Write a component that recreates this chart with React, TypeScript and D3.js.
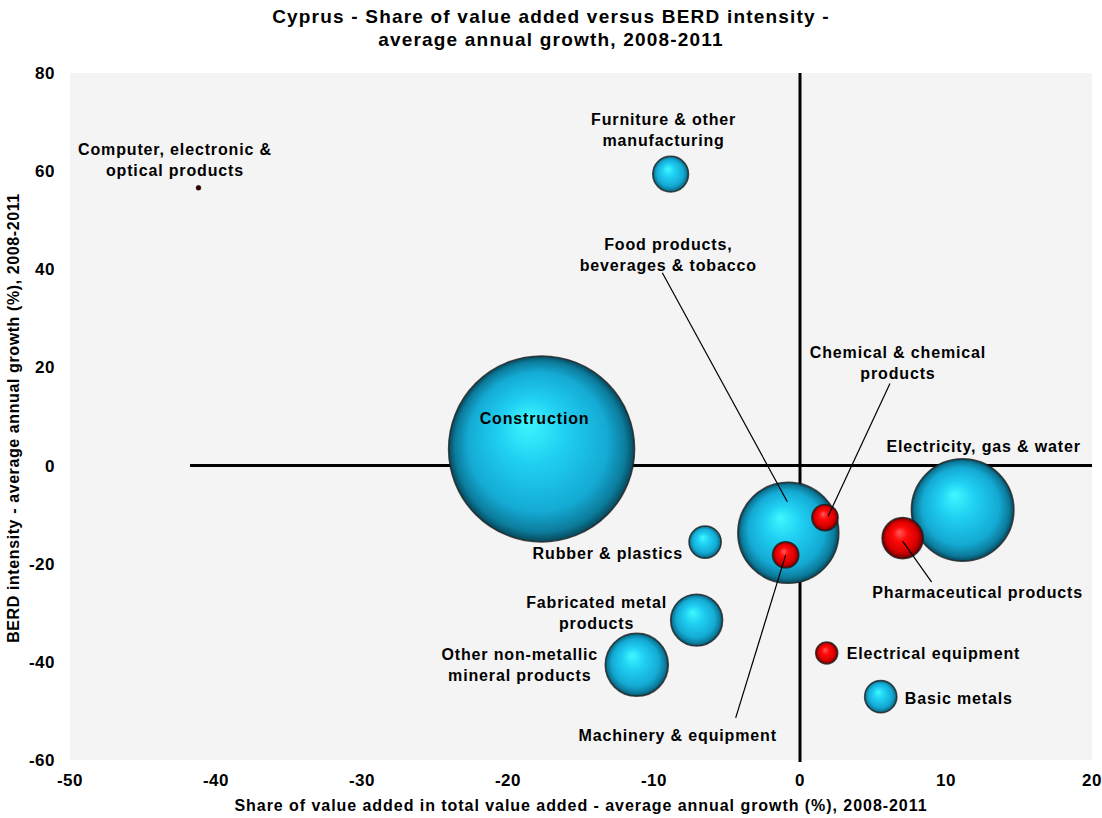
import React from "react";
import * as d3 from "d3";

const names = [
  "Computer, electronic & optical products",
  "Furniture & other manufacturing",
  "Construction",
  "Food products, beverages & tobacco",
  "Chemical & chemical products",
  "Machinery & equipment",
  "Rubber & plastics",
  "Electricity, gas & water",
  "Pharmaceutical products",
  "Fabricated metal products",
  "Other non-metallic mineral products",
  "Electrical equipment",
  "Basic metals",
];
const shareGrowth = [-41.2, -8.86, -17.7, -0.8, 1.71, -0.98, -6.5, 11.14, 7.03, -7.08, -11.18, 1.83, 5.53];
const berdGrowth = [56.6, 59.4, 3.4, -13.7, -10.6, -18.2, -15.6, -9.05, -14.8, -31.5, -40.6, -38.2, -47.1];
const bubbleSize = [0.07, 3.7, 100, 29.5, 2.0, 2.0, 3.0, 30.4, 4.9, 7.8, 11.5, 1.4, 3.0];
const group = ["red", "cyan", "cyan", "cyan", "red", "red", "cyan", "cyan", "red", "cyan", "cyan", "red", "cyan"];

const xTicks = [-50, -40, -30, -20, -10, 0, 10, 20];
const yTicks = [-60, -40, -20, 0, 20, 40, 60, 80];

type Lab = { lines: string[]; dx: number; dy: number; anchor: string; leader?: [number, number, number, number] };
const labels: Lab[] = [
  { lines: ["Computer, electronic &", "optical products"], dx: -23.5, dy: -38, anchor: "middle" },
  { lines: ["Furniture & other", "manufacturing"], dx: -7, dy: -55, anchor: "middle" },
  { lines: ["Construction"], dx: -7, dy: -30, anchor: "middle" },
  { lines: ["Food products,", "beverages & tobacco"], dx: -120, dy: -288, anchor: "middle", leader: [-126, -260, -1, -31] },
  { lines: ["Chemical & chemical", "products"], dx: 73, dy: -165, anchor: "middle", leader: [65, -134, 3, -1] },
  { lines: ["Machinery & equipment"], dx: -108, dy: 181, anchor: "middle", leader: [-50, 163, 0, 0] },
  { lines: ["Rubber & plastics"], dx: -22, dy: 11, anchor: "end" },
  { lines: ["Electricity, gas & water"], dx: 21, dy: -64, anchor: "middle" },
  { lines: ["Pharmaceutical products"], dx: 75, dy: 54, anchor: "middle", leader: [29, 44, 0, 3] },
  { lines: ["Fabricated metal", "products"], dx: -100, dy: -18, anchor: "middle" },
  { lines: ["Other non-metallic", "mineral products"], dx: -117, dy: -10, anchor: "middle" },
  { lines: ["Electrical equipment"], dx: 20, dy: 0, anchor: "start" },
  { lines: ["Basic metals"], dx: 24, dy: 2, anchor: "start" },
];

const W = 1102, H = 818;
const left = 70, right = 1092, top = 73, bottom = 760;
const FONT = "'Liberation Sans', Arial, sans-serif";

export default function App() {
  const x = d3.scaleLinear().domain([-50, 20]).range([left, right]);
  const y = d3.scaleLinear().domain([-60, 80]).range([bottom, top]);
  const r = d3.scaleSqrt().domain([0, 100]).range([0, 93]);

  const idx = d3.range(names.length);
  const order = [...idx].sort((a, b) => {
    if (group[a] !== group[b]) return group[a] === "cyan" ? -1 : 1;
    return bubbleSize[b] - bubbleSize[a];
  });

  return (
    <div style={{ position: "absolute", left: 0, top: 0 }}>
      <svg width={W} height={H} style={{ display: "block", fontFamily: FONT }}>
        <defs>
          <radialGradient id="gCyan" cx="0.5" cy="0.5" r="0.5" fx="0.42" fy="0.35">
            <stop offset="0%" stopColor="#3ff8ff" />
            <stop offset="35%" stopColor="#20d0f2" />
            <stop offset="75%" stopColor="#14aad4" />
            <stop offset="92%" stopColor="#0c7b9b" />
            <stop offset="100%" stopColor="#06475a" />
          </radialGradient>
          <radialGradient id="gRed" cx="0.5" cy="0.5" r="0.5" fx="0.42" fy="0.35">
            <stop offset="0%" stopColor="#ff5a5a" />
            <stop offset="35%" stopColor="#ff0a0a" />
            <stop offset="75%" stopColor="#d80000" />
            <stop offset="92%" stopColor="#900000" />
            <stop offset="100%" stopColor="#400000" />
          </radialGradient>
        </defs>
        <rect x={0} y={0} width={W} height={H} fill="#ffffff" />
        <rect x={left} y={top} width={right - left} height={bottom - top} fill="#f4f4f4" />

        {/* title */}
        <text x={551} y={23} textAnchor="middle" fontSize={19} letterSpacing={1.2} fontWeight="bold" fill="#000">
          Cyprus - Share of value added versus BERD intensity -
        </text>
        <text x={551} y={46} textAnchor="middle" fontSize={19} letterSpacing={1.2} fontWeight="bold" fill="#000">
          average annual growth, 2008-2011
        </text>

        {/* axis lines */}
        <line x1={190} x2={right} y1={y(0)} y2={y(0)} stroke="#000" strokeWidth={3} />
        <line x1={x(0)} x2={x(0)} y1={top} y2={bottom + 2} stroke="#000" strokeWidth={3} />

        {/* ticks */}
        {yTicks.map((t) => (
          <text key={"y" + t} x={55} y={y(t)} dy="0.35em" textAnchor="end" fontSize={17} letterSpacing={0.5} fontWeight="bold">
            {t}
          </text>
        ))}
        {xTicks.map((t) => (
          <text key={"x" + t} x={x(t)} y={786} textAnchor="middle" fontSize={17} letterSpacing={0.5} fontWeight="bold">
            {t}
          </text>
        ))}

        {/* axis titles */}
        <text x={581} y={811} textAnchor="middle" fontSize={16} letterSpacing={0.95} fontWeight="bold">
          Share of value added in total value added - average annual growth (%), 2008-2011
        </text>
        <text
          transform={`translate(19,${418}) rotate(-90)`}
          textAnchor="middle"
          fontSize={16}
          letterSpacing={0.6}
          fontWeight="bold"
        >
          BERD intensity - average annual growth (%), 2008-2011
        </text>

        {/* bubbles */}
        {order.map((i) => (
          <circle
            key={"b" + i}
            cx={x(shareGrowth[i])}
            cy={y(berdGrowth[i])}
            r={Math.max(r(bubbleSize[i]), 2.5)}
            fill={bubbleSize[i] < 0.5 ? "#300" : group[i] === "red" ? "url(#gRed)" : "url(#gCyan)"}
            stroke="#222"
            strokeOpacity={0.8}
            strokeWidth={bubbleSize[i] < 0.5 ? 0.5 : 1.5}
          />
        ))}

        {/* leaders */}
        {idx.map((i) => {
          const L = labels[i];
          if (!L.leader) return null;
          const cx = x(shareGrowth[i]);
          const cy = y(berdGrowth[i]);
          return (
            <line
              key={"l" + i}
              x1={cx + L.leader[0]}
              y1={cy + L.leader[1]}
              x2={cx + L.leader[2]}
              y2={cy + L.leader[3]}
              stroke="#000"
              strokeWidth={1.2}
            />
          );
        })}

        {/* labels */}
        {idx.map((i) => {
          const L = labels[i];
          const cx = x(shareGrowth[i]);
          const cy = y(berdGrowth[i]);
          return (
            <text key={"t" + i} textAnchor={L.anchor} fontSize={16} letterSpacing={0.85} fontWeight="bold" fill="#000">
              {L.lines.map((ln, k) => (
                <tspan key={k} x={cx + L.dx} y={cy + L.dy + k * 21} dy="0.35em">
                  {ln}
                </tspan>
              ))}
            </text>
          );
        })}
      </svg>
    </div>
  );
}
